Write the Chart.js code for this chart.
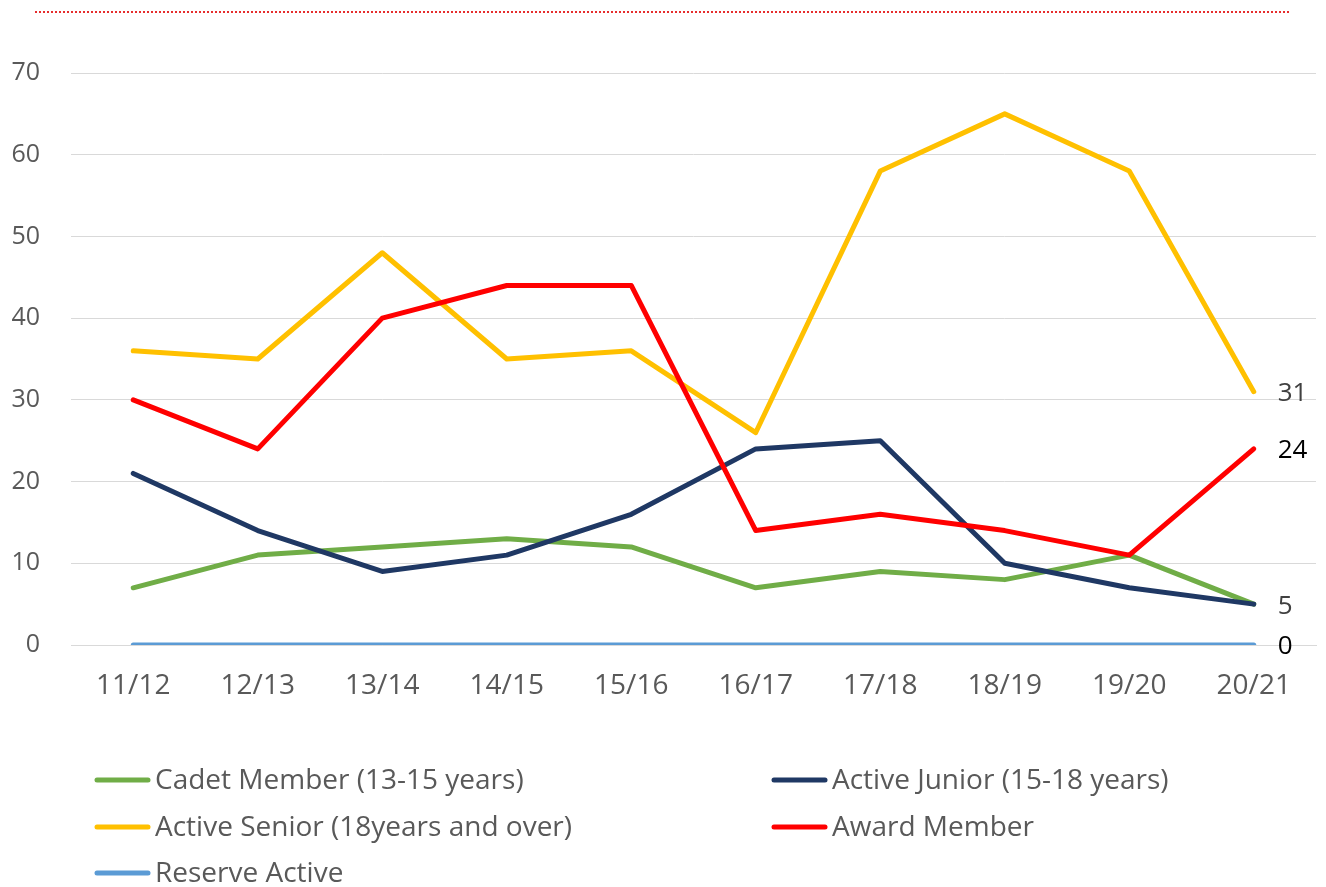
<!DOCTYPE html>
<html>
<head>
<meta charset="utf-8">
<script src="https://cdn.jsdelivr.net/npm/chart.js@4/dist/chart.umd.min.js"></script>
<style>
  html, body { margin: 0; padding: 0; background: #fff; }
  #wrap { position: relative; width: 1326px; height: 887px; }
</style>
</head>
<body>
<div id="wrap"><canvas id="miGrafica"></canvas></div>
<script>
// season labels on the x axis
var seasons = ['11/12', '12/13', '13/14', '14/15', '15/16', '16/17', '17/18', '18/19', '19/20', '20/21'];

// member counts per season
var cadet   = [7, 11, 12, 13, 12, 7, 9, 8, 11, 5];
var junior  = [21, 14, 9, 11, 16, 24, 25, 10, 7, 5];
var senior  = [36, 35, 48, 35, 36, 26, 58, 65, 58, 31];
var award   = [30, 24, 40, 44, 44, 14, 16, 14, 11, 24];
var reserve = [0, 0, 0, 0, 0, 0, 0, 0, 0, 0];

var seriesNames = ['Cadet Member (13-15 years)', 'Active Junior (15-18 years)',
                   'Active Senior (18years and over)', 'Award Member', 'Reserve Active'];
var seriesColors = ['#70AD47', '#1F3864', '#FFC000', '#FF0000', '#5B9BD5'];
var yTicks = [0, 10, 20, 30, 40, 50, 60, 70];

var FONT = '"Open Sans", sans-serif';
var allData = [cadet, junior, senior, award, reserve];

var datasets = allData.map(function (d, i) {
  return {
    label: seriesNames[i],
    data: d,
    borderColor: seriesColors[i],
    backgroundColor: seriesColors[i],
    borderWidth: 5,
    pointRadius: 0,
    tension: 0,
    borderJoinStyle: 'round',
    borderCapStyle: 'round',
    order: -i
  };
});

// end-of-line value labels (only the ones shown in the picture)
var endLabels = [
  { ds: 2, color: '#404040' },
  { ds: 3, color: '#000000' },
  { ds: 1, color: '#404040' },
  { ds: 4, color: '#000000' }
];

var extras = {
  id: 'extras',
  afterDraw: function (chart) {
    var ctx = chart.ctx;
    ctx.save();

    // dotted red rule on top
    ctx.strokeStyle = 'rgb(230,45,45)';
    ctx.lineWidth = 2;
    ctx.setLineDash([2, 2]);
    ctx.beginPath();
    ctx.moveTo(35, 12);
    ctx.lineTo(1290, 12);
    ctx.stroke();
    ctx.setLineDash([]);

    // value labels at the last point
    ctx.font = '26px ' + FONT;
    ctx.textBaseline = 'middle';
    ctx.textAlign = 'left';
    endLabels.forEach(function (l) {
      var meta = chart.getDatasetMeta(l.ds);
      var pt = meta.data[meta.data.length - 1];
      var v = chart.data.datasets[l.ds].data[seasons.length - 1];
      ctx.fillStyle = l.color;
      ctx.fillText(String(v), pt.x + 24, pt.y + 2);
    });

    // legend in two columns
    var cols = [95, 772];
    var rows = [780, 827, 873];
    ctx.font = '28px ' + FONT;
    ctx.lineCap = 'round';
    ctx.lineWidth = 5;
    seriesNames.forEach(function (name, i) {
      var x = cols[i % 2];
      var y = rows[Math.floor(i / 2)];
      ctx.strokeStyle = seriesColors[i];
      ctx.beginPath();
      ctx.moveTo(x + 2, y);
      ctx.lineTo(x + 53, y);
      ctx.stroke();
      ctx.fillStyle = '#595959';
      ctx.fillText(name, x + 60, y + 1);
    });
    ctx.restore();
  }
};

var ctx = document.getElementById('miGrafica').getContext('2d');
var chart = new Chart(ctx, {
  type: 'line',
  data: { labels: seasons, datasets: datasets },
  options: {
    responsive: true,
    maintainAspectRatio: false,
    animation: false,
    layout: { padding: { top: 73, right: 10, bottom: 0, left: 0 } },
    plugins: { legend: { display: false }, tooltip: { enabled: false } },
    scales: {
      x: {
        offset: true,
        grid: { display: false, drawTicks: false },
        border: { display: true, color: '#D9D9D9', width: 1 },
        ticks: { color: '#595959', font: { family: FONT, size: 28 }, padding: 24, maxRotation: 0 },
        afterFit: function (s) { s.height = 242; }
      },
      y: {
        min: 0,
        max: 70,
        afterBuildTicks: function (s) { s.ticks = yTicks.map(function (v) { return { value: v }; }); },
        grid: { color: '#D9D9D9', lineWidth: 1, drawTicks: false },
        border: { display: false },
        ticks: { color: '#595959', font: { family: FONT, size: 25 }, padding: 31 },
        afterFit: function (s) { s.width = 71; }
      }
    }
  },
  plugins: [extras]
});
</script>
</body>
</html>
